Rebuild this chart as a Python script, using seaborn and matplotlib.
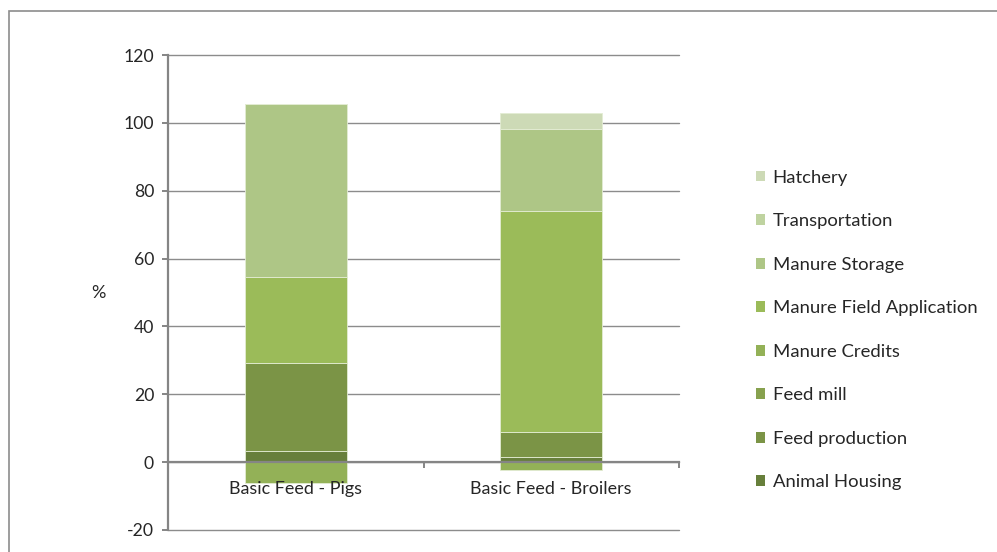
import numpy as np
import pandas as pd
import matplotlib
matplotlib.use("Agg")
import matplotlib.pyplot as plt
import seaborn as sns
from matplotlib.patches import Patch, Rectangle

# data (% of total)
scenarios = ["Basic Feed - Pigs", "Basic Feed - Broilers"]
stages = ["Animal Housing", "Feed production", "Feed mill", "Manure Credits",
          "Manure Field Application", "Manure Storage", "Transportation", "Hatchery"]
animal_housing = [3.4, 1.4]
feed_production = [25.7, 7.6]
feed_mill = [0.0, 0.0]
manure_credits = [-6.2, -2.2]
manure_field = [25.6, 65.0]
manure_storage = [51.0, 24.1]
transportation = [0.0, 0.0]
hatchery = [0.0, 4.9]

colors = ["#677f3b", "#7b9446", "#87a14e", "#93b157",
          "#9bbb59", "#aec686", "#bfd3a0", "#cddab6"]

values = [animal_housing, feed_production, feed_mill, manure_credits,
          manure_field, manure_storage, transportation, hatchery]

sns.set_style("white")
plt.rcParams["font.family"] = ["Lato", "DejaVu Sans"]
plt.rcParams["axes.unicode_minus"] = False

fig = plt.figure(figsize=(9.97, 5.52), dpi=100)
ax = fig.add_axes([168 / 997, 1 - 530 / 552, (679 - 168) / 997, (530 - 55) / 552])

pos_bottom = np.zeros(len(scenarios))
neg_bottom = np.zeros(len(scenarios))
for stage, vals, col in zip(stages, values, colors):
    vals = np.array(vals, dtype=float)
    bottom = np.where(vals >= 0, pos_bottom, neg_bottom)
    df = pd.DataFrame({"scenario": scenarios, "value": vals})
    sns.barplot(data=df, x="scenario", y="value", order=scenarios, color=col,
                bottom=bottom, width=0.4, edgecolor="#e3ecd3", linewidth=0.6,
                saturation=1, ax=ax, zorder=3)
    pos_bottom = pos_bottom + np.where(vals > 0, vals, 0)
    neg_bottom = neg_bottom + np.where(vals < 0, vals, 0)

ax.set_xlim(-0.5, 1.5)
ax.set_ylim(-20, 120)
ax.set_yticks(range(-20, 121, 20))
ax.yaxis.grid(True, color="#8c8c8c", linewidth=1.0)
ax.set_axisbelow(True)
ax.xaxis.set_zorder(5)
for gl in ax.get_ygridlines():
    gl.set_clip_on(False)

for s in ["top", "right"]:
    ax.spines[s].set_visible(False)
ax.spines["bottom"].set_position(("data", 0))
ax.spines["bottom"].set_color("#858585")
ax.spines["bottom"].set_linewidth(1.6)
ax.spines["bottom"].set_zorder(4)
ax.spines["left"].set_color("#858585")
ax.spines["left"].set_linewidth(1.6)

# category boundaries get the ticks, labels sit at the centres
ax.set_xticks([-0.5, 0.5, 1.5])
ax.set_xticklabels([])
ax.set_xticks([0, 1], minor=True)
ax.set_xticklabels(scenarios, minor=True, fontsize=12.9)
ax.tick_params(axis="x", which="major", direction="out", length=4, width=1.4,
               color="#858585", bottom=True)
ax.tick_params(axis="x", which="minor", length=0, pad=13.5, bottom=True)
ax.tick_params(axis="y", direction="out", length=4, width=1.4, color="#858585",
               left=True, labelsize=12.7, pad=6)

ax.set_xlabel("")
ax.set_ylabel("%", rotation=0, fontsize=13, labelpad=18, va="center")

handles = [Patch(facecolor=c, edgecolor="none") for c in colors]
fig.legend(handles[::-1], stages[::-1], loc="upper left",
           bbox_to_anchor=(739 / 997, 1 - 153 / 552), frameon=False,
           fontsize=13.3, labelspacing=1.49, handlelength=0.52,
           handleheight=0.52, handletextpad=0.4)

# outer chart border
fig.patches.append(Rectangle((9 / 997, -0.1), 1.2, 1 - 11 / 552 + 0.1,
                             transform=fig.transFigure, fill=False,
                             edgecolor="#8c8c8c", linewidth=1.2))

fig.savefig("out.png", dpi=100)
